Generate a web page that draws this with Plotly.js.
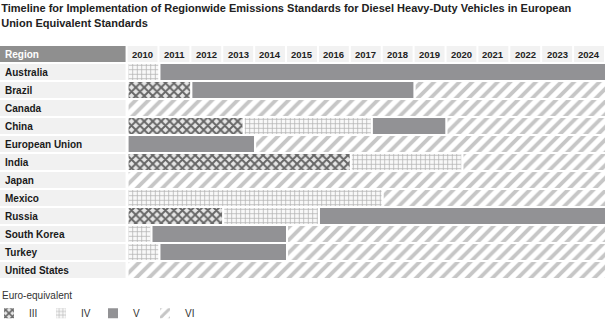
<!DOCTYPE html>
<html>
<head>
<meta charset="utf-8">
<script src="https://cdn.plot.ly/plotly-3.0.1.min.js"></script>
<style>html,body{margin:0;padding:0;background:#fff;}#chart{width:606px;height:324px;}</style>
</head>
<body>
<div id="chart"></div>
<script>
// ---- data ----
const regions = ['Australia','Brazil','Canada','China','European Union','India','Japan','Mexico','Russia','South Korea','Turkey','United States'];
const years = [2010,2011,2012,2013,2014,2015,2016,2017,2018,2019,2020,2021,2022,2023,2024];
const headerLabel = 'Region';

const euroIIIRegion = ['Brazil','China','India','Russia'];
const euroIIIStart  = [2010, 2010, 2010, 2010];
const euroIIIEnd    = [2012, 2013.64, 2017, 2013];

const euroIVRegion = ['Australia','China','India','Mexico','Russia','South Korea','Turkey'];
const euroIVStart  = [2010, 2013.64, 2017, 2010, 2013, 2010, 2010];
const euroIVEnd    = [2011, 2017.66, 2020.5, 2018, 2016, 2010.75, 2011];

const euroVRegion = ['Australia','Brazil','China','European Union','Russia','South Korea','Turkey'];
const euroVStart  = [2011, 2012, 2017.66, 2010, 2016, 2010.75, 2011];
const euroVEnd    = [2025, 2019, 2020, 2014, 2025, 2015, 2015];

const euroVIRegion = ['Brazil','Canada','China','European Union','India','Japan','Mexico','South Korea','Turkey','United States'];
const euroVIStart  = [2019, 2010, 2020, 2014, 2020.5, 2010, 2018, 2015, 2015, 2010];
const euroVIEnd    = [2025, 2025, 2025, 2025, 2025, 2025, 2025, 2025, 2025, 2025];

const legendTitle = 'Euro-equivalent';
const seriesNames = ['III','IV','V','VI'];

// ---- build ----
const FONT = '"Liberation Sans", Arial, sans-serif';
const rowOf = r => regions.indexOf(r) + 1;

function seg(name, reg, start, end, marker) {
  return {
    type: 'bar', orientation: 'h', name: name,
    y: reg.map(rowOf),
    base: start,
    x: end.map((e, i) => e - start[i]),
    width: 1,
    marker: Object.assign({line: {color: '#ffffff', width: 2}}, marker),
    hoverinfo: 'skip'
  };
}

const traces = [
  seg(seriesNames[0], euroIIIRegion, euroIIIStart, euroIIIEnd,
      {color: '#6e6e6e', pattern: {shape: 'x', fgcolor: '#666666', bgcolor: '#e6e6e6', size: 6, solidity: 0.55, fillmode: 'replace'}}),
  seg(seriesNames[1], euroIVRegion, euroIVStart, euroIVEnd,
      {color: '#b4b4b4', pattern: {shape: '+', fgcolor: '#b0b0b0', bgcolor: '#f8f8f8', size: 4.5, solidity: 0.3, fillmode: 'replace'}}),
  seg(seriesNames[2], euroVRegion, euroVStart, euroVEnd, {color: '#929295'}),
  seg(seriesNames[3], euroVIRegion, euroVIStart, euroVIEnd,
      {color: '#c6c6c6', pattern: {shape: '/', fgcolor: '#c6c6c6', bgcolor: '#ffffff', size: 9, solidity: 0.42, fillmode: 'replace'}})
];

const firstYear = years[0];
const labelColStart = firstYear - 4;
const shapes = [];
const annotations = [];
const cellGap = 0.063;   // fraction of a year column
const rowGap = 1 / 18;

// header region cell
shapes.push({type: 'rect', layer: 'below', xref: 'x', yref: 'y', x0: labelColStart, x1: firstYear - cellGap,
  y0: -0.5 + rowGap, y1: 0.5 - rowGap, fillcolor: '#8f8f8f', line: {width: 0}});
annotations.push({xref: 'paper', yref: 'y', x: 0, y: 0, xanchor: 'left', xshift: 3, showarrow: false,
  text: headerLabel, font: {family: FONT, size: 10, color: '#ffffff', weight: 'bold'}});

// year header cells
years.forEach(yr => {
  shapes.push({type: 'rect', layer: 'below', xref: 'x', yref: 'y', x0: yr, x1: yr + 1 - cellGap,
    y0: -0.5 + rowGap, y1: 0.5 - rowGap, fillcolor: '#f2f2f2', line: {width: 0}});
  annotations.push({xref: 'x', yref: 'y', x: yr + 0.47, y: 0, showarrow: false, text: String(yr),
    font: {family: FONT, size: 9.5, color: '#222222', weight: 'bold'}});
});

// region label cells
regions.forEach((r, i) => {
  shapes.push({type: 'rect', layer: 'below', xref: 'x', yref: 'y', x0: labelColStart, x1: firstYear - cellGap,
    y0: i + 1 - 0.5 + rowGap, y1: i + 1 + 0.5 - rowGap, fillcolor: '#f1f1f1', line: {width: 0}});
  annotations.push({xref: 'paper', yref: 'y', x: 0, y: i + 1, xanchor: 'left', xshift: 3, showarrow: false,
    text: r, font: {family: FONT, size: 10, color: '#1a1a1a', weight: 'bold'}});
});

const layout = {
  width: 606, height: 324,
  margin: {l: 0, r: 0, t: 45, b: 45, pad: 0, autoexpand: false},
  paper_bgcolor: '#ffffff', plot_bgcolor: '#ffffff',
  font: {family: FONT, size: 10, color: '#333333'},
  title: {
    text: 'Timeline for Implementation of Regionwide Emissions Standards for Diesel Heavy-Duty Vehicles in European<br>Union Equivalent Standards',
    x: 0.002, xref: 'container', xanchor: 'left', y: 0.962, yref: 'container', yanchor: 'top',
    font: {family: FONT, size: 11, color: '#222222', weight: 'bold'}
  },
  barmode: 'overlay',
  bargap: 0,
  showlegend: true,
  legend: {
    orientation: 'h', xref: 'container', yref: 'container', x: 0, xanchor: 'left', y: 0.118, yanchor: 'top',
    indentation: -11,
    title: {text: legendTitle, side: 'top', font: {family: FONT, size: 10, color: '#333333'}},
    font: {family: FONT, size: 10, color: '#333333'},
    bgcolor: 'rgba(0,0,0,0)', entrywidth: 18, entrywidthmode: 'pixels', tracegroupgap: 0
  },
  xaxis: {range: [labelColStart, years[years.length - 1] + 1], visible: false, fixedrange: true},
  yaxis: {range: [regions.length + 0.5, -0.5], visible: false, fixedrange: true},
  shapes: shapes,
  annotations: annotations,
  hovermode: false
};

Plotly.newPlot('chart', traces, layout, {staticPlot: true, displayModeBar: false});
</script>
</body>
</html>
